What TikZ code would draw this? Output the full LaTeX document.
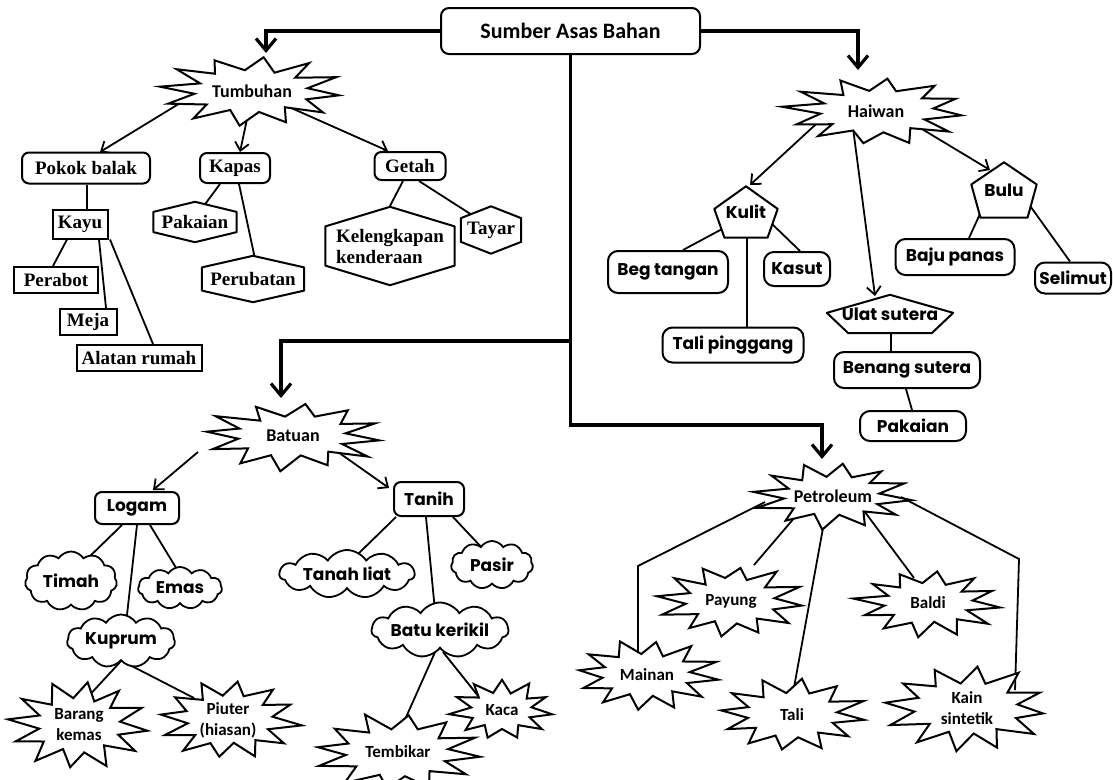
\documentclass[tikz,border=0pt]{standalone}
\usepackage{fontspec}
\usetikzlibrary{shapes.symbols,shapes.geometric,arrows.meta,calc}
\newfontfamily\fCarl{Carlito}
\newfontfamily\fTimes{Liberation Serif}
\newfontfamily\fGoth{Poppins}
\pgfdeclarelayer{bg}\pgfdeclarelayer{mid}\pgfsetlayers{bg,mid,main}
\newcommand\mkhex[1]{\path[poly] (#1.north) -- ($(#1.north east)!0.25!(#1.south east)$) -- ($(#1.north east)!0.75!(#1.south east)$) -- (#1.south) -- ($(#1.south west)!0.25!(#1.north west)$) -- ($(#1.south west)!0.75!(#1.north west)$) -- cycle;}
\newcommand\mkpent[3]{\path[poly] (#1.north) -- ($(#1.north east)!#2!(#1.south east)$) -- ($(#1.south east)!#3!(#1.south west)$) -- ($(#1.south west)!#3!(#1.south east)$) -- ($(#1.north west)!#2!(#1.south west)$) -- cycle;}
% star: name, half width, half height, last vertex index (odd), seed
\newcommand\mkstar[5]{\pgfmathsetseed{#5}%
 \path[poly, line join=miter, miter limit=20, shift={(#1.center)}] plot[samples at={0,...,#4}, variable=\t]
  ({#2*cos(\t*360/(#4+1)+180/(#4+1))*(mod(\t,2)==0 ? 0.9+0.12*rnd : 0.55+0.08*rnd)},
   {#3*sin(\t*360/(#4+1)+180/(#4+1))*(mod(\t,2)==0 ? 0.9+0.12*rnd : 0.55+0.08*rnd)}) -- cycle;}
\tikzset{
 poly/.style={draw, fill=white, line width=2pt, line join=round},
 rbox/.style={draw, fill=white, line width=2pt, rounded corners=7pt, inner sep=0pt},
 gbox/.style={draw, fill=white, line width=2pt, rounded corners=10pt, inner sep=0pt},
 sbox/.style={draw, fill=white, line width=2pt, inner sep=0pt},
 holder/.style={inner sep=0pt},
 burst/.style={inner sep=0pt},
 cld/.style={cloud, draw, fill=white, line width=1.8pt, cloud puffs=11, cloud puff arc=115, aspect=2, cloud ignores aspect, inner sep=0pt},
 con/.style={line width=1.8pt},
 arr/.style={con, -{Straight Barb[length=8pt,width=14pt]}},
 rootln/.style={line width=3.2pt},
 marr/.style={rootln, -{Straight Barb[length=12pt,width=20pt]}},
 tms/.style={font={\fTimes\bfseries\fontsize{19}{21}\selectfont}},
 gth/.style={font={\fGoth\bfseries\fontsize{17}{19}\selectfont}},
 clb/.style={font={\fCarl\bfseries\fontsize{18}{20}\selectfont}},
 clbs/.style={font={\fCarl\bfseries\fontsize{17}{21}\selectfont}},
}
\begin{document}
\begin{tikzpicture}[x=1pt,y=-1pt]
\useasboundingbox (0,0) rectangle (1113,779);
\begin{pgfonlayer}{bg}
\fill[white] (0,0) rectangle (1113,779);
\end{pgfonlayer}
% root
\node[rbox, rounded corners=8pt, minimum width=259pt, minimum height=46pt, font={\fCarl\bfseries\fontsize{22}{24}\selectfont}] (root) at (570.5,31) {Sumber Asas Bahan};
% Tumbuhan
\node[burst, clb] (tum) at (252,91) {Tumbuhan};
\node[rbox, tms, minimum width=128pt, minimum height=31pt] (pb) at (86,168) {Pokok balak};
\node[rbox, tms, minimum width=70pt, minimum height=30pt] (kap) at (235,168) {Kapas};
\node[rbox, tms, minimum width=71pt, minimum height=28pt] (get) at (410,166) {Getah};
\node[sbox, tms, minimum width=55pt, minimum height=29pt] (kay) at (80,224) {Kayu};
\node[sbox, tms, minimum width=84pt, minimum height=26pt] (per) at (56,280) {Perabot};
\node[sbox, tms, minimum width=57pt, minimum height=26pt] (mej) at (88,322) {Meja};
\node[sbox, tms, minimum width=125pt, minimum height=26pt] (alr) at (139,358) {Alatan rumah};
\node[holder, tms, minimum width=83pt, minimum height=40pt] (pak1) at (195,222) {Pakaian};
\node[holder, tms, minimum width=102pt, minimum height=46pt] (pru) at (253,279) {Perubatan};
\node[holder, tms, minimum width=129pt, minimum height=78pt, align=left] (kel) at (390,246) {Kelengkapan\\kenderaan};
\node[holder, tms, minimum width=60pt, minimum height=47pt] (tay) at (491,230) {Tayar};
% Haiwan
\node[burst, clb] (hai) at (876,111) {Haiwan};
\node[holder, gth, minimum width=63pt, minimum height=51pt] (kul) at (746,212) {Kulit};
\node[holder, gth, minimum width=65pt, minimum height=55pt] (bul) at (1004,190) {Bulu};
\node[gbox, gth, minimum width=120pt, minimum height=42pt] (bgt) at (668,272) {Beg tangan};
\node[gbox, gth, minimum width=66pt, minimum height=34pt] (kas) at (797,269) {Kasut};
\node[gbox, gth, minimum width=141pt, minimum height=35pt] (tp) at (733,345) {Tali pinggang};
\node[holder, gth, minimum width=126pt, minimum height=38pt] (uls) at (890,314) {Ulat sutera};
\node[gbox, gth, minimum width=146pt, minimum height=36pt] (bs) at (907,370) {Benang sutera};
\node[gbox, gth, minimum width=106pt, minimum height=30pt] (pak2) at (913,426) {Pakaian};
\node[gbox, gth, minimum width=119pt, minimum height=36pt] (bp) at (955,257) {Baju panas};
\node[gbox, gth, minimum width=76pt, minimum height=31pt] (sel) at (1073,278) {Selimut};
% Batuan
\node[burst, clb] (bat) at (293,436) {Batuan};
\node[rbox, gth, minimum width=84pt, minimum height=32pt] (log) at (137,508) {Logam};
\node[rbox, gth, minimum width=70pt, minimum height=34pt] (tan) at (429,499) {Tanih};
\node[cld, gth, minimum width=92pt, minimum height=59pt] (tim) at (71,581) {Timah};
\node[cld, gth, minimum width=84pt, minimum height=42pt] (ema) at (180,588) {Emas};
\node[cld, gth, minimum width=108pt, minimum height=53pt] (kup) at (121,641) {Kuprum};
\node[cld, gth, minimum width=135pt, minimum height=48pt] (tl) at (347,574) {Tanah liat};
\node[cld, gth, minimum width=82pt, minimum height=48pt] (pas) at (492,565) {Pasir};
\node[cld, gth, minimum width=137pt, minimum height=55pt] (bkr) at (440,630) {Batu kerikil};
\node[burst, clbs, align=center] (bk) at (79,725) {Barang\\kemas};
\node[burst, clbs, align=center] (pt) at (228,720) {Piuter\\(hiasan)};
\node[burst, clbs] (kac) at (502,710) {Kaca};
\node[burst, clbs] (tem) at (398,752) {Tembikar};
% Petroleum
\node[burst, clb] (pet) at (833,496) {Petroleum};
\node[burst, clbs] (pay) at (731,601) {Payung};
\node[burst, clbs] (bal) at (928,603) {Baldi};
\node[burst, clbs] (mai) at (647,675) {Mainan};
\node[burst, clbs] (tal) at (792,715) {Tali};
\node[burst, clbs, align=center] (kai) at (967,708) {Kain\\sintetik};
% custom shapes
\begin{pgfonlayer}{mid}
\mkhex{pak1}\mkhex{pru}\mkhex{kel}\mkhex{tay}
\mkpent{kul}{0.44}{0.16}
\mkpent{bul}{0.4}{0.14}
\mkpent{uls}{0.47}{0.17}
\mkstar{tum}{97}{36}{23}{11}
\mkstar{hai}{95}{35}{23}{23}
\mkstar{bat}{96}{35}{23}{37}
\mkstar{bk}{71}{45}{23}{41}
\mkstar{pt}{73}{41}{23}{53}
\mkstar{kac}{53}{31}{21}{61}
\mkstar{tem}{86}{40}{23}{71}
\mkstar{pet}{82}{34}{23}{83}
\mkstar{pay}{74}{37}{23}{97}
\mkstar{bal}{76}{34}{23}{101}
\mkstar{mai}{75}{36}{23}{113}
\mkstar{tal}{76}{37}{23}{127}
\mkstar{kai}{85}{44}{23}{131}
\end{pgfonlayer}
% connectors
\begin{pgfonlayer}{bg}
\coordinate (jb) at ($(root.south)+(0,286)$);
\coordinate (jp) at ($(root.south)+(0,370)$);
\draw[marr] (root.west) -| ($(tum)+(14,-38)$);
\draw[marr] (root.east) -| ($(hai)+(-18,-41)$);
\draw[marr] (root.south) -- (jp) -| ($(pet)+(-11,-37)$);
\draw[marr] (jb) -| ($(bat)+(-12,-38)$);
% Tumbuhan
\draw[arr] ($(tum)+(-57,3)$) -- ($(pb)+(14,-16)$);
\draw[arr] ($(tum)+(1,0)$) -- ($(kap)+(5,-16)$);
\draw[arr] ($(tum)+(19,8)$) -- ($(get)+(-22,-15)$);
\draw[con] ($(pb.south)+(1,0)$) -- ($(kay.north)+(7,0)$);
\draw[con] ($(kay.south)+(-13,0)$) -- ($(per.north)+(-3,0)$);
\draw[con] ($(kay.south)+(19,0)$) -- ($(mej.north)+(18,0)$);
\draw[con] ($(kay.south)+(30,0)$) -- ($(alr.north)+(14,0)$);
\draw[con] ($(kap.south)+(-15,0)$) -- ($(pak1)+(8,-15)$);
\draw[con] ($(kap.south)+(4,0)$) -- ($(pru.north)+(2,3)$);
\draw[con] ($(get.south)+(-7,0)$) -- ($(kel.north)+(-2,3)$);
\draw[con] ($(get.south)+(9,0)$) -- ($(tay)+(-19,-15)$);
% Haiwan
\draw[arr] ($(hai)+(-49,3)$) -- ($(kul)+(4,-27)$);
\draw[arr] ($(hai)+(-23,17)$) -- ($(uls)+(-15,-18)$);
\draw[arr] ($(hai)+(31,9)$) -- ($(bul)+(-14,-20)$);
\draw[con] ($(kul)+(-22,16)$) -- ($(bgt.north)+(15,0)$);
\draw[con] ($(kul)+(25,11)$) -- ($(kas.north)+(3,0)$);
\draw[con] ($(kul)+(1,20)$) -- ($(tp.north)+(14,0)$);
\draw[con] ($(uls)+(1,15)$) -- ($(bs.north)+(-16,0)$);
\draw[con] ($(bs.south)+(-1,0)$) -- ($(pak2.north)+(-1,0)$);
\draw[con] ($(bul)+(-20,15)$) -- ($(bp.north)+(14,0)$);
\draw[con] ($(bul)+(24,13)$) -- ($(sel.north)+(-3,0)$);
% Batuan
\draw[arr] ($(bat)+(-95,16)$) -- ($(log.north)+(16,-1)$);
\draw[arr] ($(bat)+(35,9)$) -- ($(tan.north west)+(-4,7)$);
\draw[con] ($(log.south)+(-15,0)$) -- ($(tim)+(15,-21)$);
\draw[con] (log.south) -- ($(kup)+(5,-17)$);
\draw[con] ($(log.south)+(13,0)$) -- ($(ema)+(1,-12)$);
\draw[con] ($(kup)+(1,19)$) -- ($(bk)+(6,-25)$);
\draw[con] ($(kup)+(3,21)$) -- ($(pt)+(-34,-22)$);
\draw[con] ($(tan.south)+(-33,0)$) -- ($(tl)+(9,-18)$);
\draw[con] ($(tan.south)+(-3,0)$) -- ($(bkr)+(-5,-19)$);
\draw[con] ($(tan.south)+(24,0)$) -- ($(pas)+(-8,-15)$);
\draw[con] ($(bkr)+(-4,20)$) -- ($(tem)+(5,-28)$);
\draw[con] ($(bkr)+(3,22)$) -- ($(kac)+(-23,-13)$);
% Petroleum
\draw[con] ($(pet)+(-68,6)$) -- ($(mai)+(-9,-109)$) -- ($(mai)+(-9,-22)$);
\draw[con] ($(pet)+(-26,7)$) -- ($(pay)+(23,-36)$);
\draw[con] ($(pet)+(-6,10)$) -- ($(tal)+(-1,-11)$);
\draw[con] ($(pet)+(23,4)$) -- ($(bal)+(-14,-25)$);
\draw[con] ($(pet)+(68,1)$) -- ($(kai)+(52,-149)$) -- ($(kai)+(48,-18)$);
\end{pgfonlayer}
\end{tikzpicture}
\end{document}
